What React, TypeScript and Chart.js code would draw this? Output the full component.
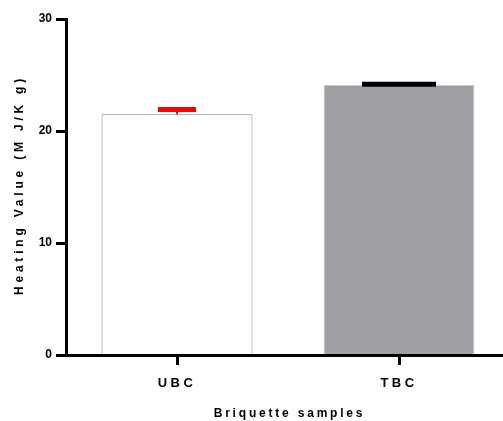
import React, { useEffect, useRef } from 'react';
import { Chart, registerables } from 'chart.js';

Chart.register(...registerables);

const categories = ['UBC', 'TBC'];
const heatingValues = [21.5, 24.13];
const errorValues = [0.42, 0.05];
const yTickValues = [0, 10, 20, 30];
const xTitle = 'Briquette samples';
const yTitle = 'Heating Value (M J/K g)';

const FONT = 'Liberation Sans, Arial, sans-serif';

const errorBarPlugin = {
  id: 'errorBars',
  beforeDraw(chart: any) {
    (chart.ctx as any).letterSpacing = '0px';
  },
  afterDatasetsDraw(chart: any, _args: any, opts: any) {
    const ctx = chart.ctx;
    const meta = chart.getDatasetMeta(0);
    const y = chart.scales.y;
    meta.data.forEach((bar: any, i: number) => {
      const top = y.getPixelForValue(heatingValues[i] + errorValues[i]);
      const base = bar.y;
      ctx.save();
      ctx.strokeStyle = opts.colors[i];
      ctx.lineWidth = opts.stemWidth;
      ctx.beginPath();
      ctx.moveTo(bar.x, base);
      ctx.lineTo(bar.x, top);
      ctx.stroke();
      ctx.lineWidth = opts.capThickness;
      ctx.beginPath();
      ctx.moveTo(bar.x - opts.capWidths[i] / 2, top);
      ctx.lineTo(bar.x + opts.capWidths[i] / 2, top);
      ctx.stroke();
      ctx.restore();
    });
    // x tick labels are drawn after this point (ticks.z = 2) with wide letter spacing
    (ctx as any).letterSpacing = opts.xTickSpacing;
  },
  afterDraw(chart: any, _args: any, opts: any) {
    const ctx = chart.ctx;
    const area = chart.chartArea;
    ctx.save();
    ctx.fillStyle = '#000';
    ctx.font = `bold 12px ${FONT}`;
    ctx.textAlign = 'center';
    ctx.textBaseline = 'middle';
    (ctx as any).letterSpacing = opts.xTitleSpacing;
    ctx.fillText(xTitle, (area.left + area.right) / 2 + 1.5, opts.xTitleY);
    ctx.translate(opts.yTitleX, (area.top + area.bottom) / 2);
    ctx.rotate(-Math.PI / 2);
    (ctx as any).letterSpacing = opts.yTitleSpacing;
    ctx.fillText(yTitle, 2, 0);
    ctx.restore();
    (ctx as any).letterSpacing = '0px';
  },
};

export default function App() {
  const canvasRef = useRef<HTMLCanvasElement | null>(null);

  useEffect(() => {
    document.body.style.margin = '0';
    const canvas = canvasRef.current;
    if (!canvas) return;
    const chart = new Chart(canvas, {
      type: 'bar',
      data: {
        labels: categories,
        datasets: [
          {
            data: heatingValues,
            backgroundColor: ['#ffffff', '#a09fa4'],
            borderColor: ['#858585', '#cfcfd2'],
            borderWidth: 1,
            categoryPercentage: 1,
            barPercentage: 0.68,
          },
        ],
      },
      options: {
        responsive: false,
        animation: false,
        devicePixelRatio: 1,
        layout: { padding: { left: 0, top: 19, right: 0, bottom: 0 } },
        plugins: {
          legend: { display: false },
          tooltip: { enabled: false },
          errorBars: {
            colors: ['#ff0000', '#000000'],
            capWidths: [38, 74],
            capThickness: 5,
            stemWidth: 2,
            xTickSpacing: '3.5px',
            xTitleSpacing: '2.8px',
            yTitleSpacing: '3.8px',
            xTitleY: 414,
            yTitleX: 20,
          },
        } as any,
        scales: {
          x: {
            offset: true,
            grid: {
              offset: false,
              drawOnChartArea: false,
              drawTicks: true,
              tickLength: 10,
              tickWidth: 3,
              tickColor: '#000',
            },
            border: { display: true, color: '#000', width: 3, z: 1 },
            ticks: {
              color: '#000',
              font: { family: FONT, size: 13, weight: 'bold' },
              padding: 11,
              z: 2,
              maxRotation: 0,
            },
            afterFit(scale: any) {
              scale.height = 66;
            },
          },
          y: {
            min: 0,
            max: 30,
            grid: {
              drawOnChartArea: false,
              drawTicks: true,
              tickLength: 10,
              tickWidth: 3,
              tickColor: '#000',
            },
            border: { display: true, color: '#000', width: 3, z: 1 },
            ticks: {
              color: '#000',
              font: { family: FONT, size: 12, weight: 'bold' },
              padding: 4,
            },
            afterBuildTicks(scale: any) {
              scale.ticks = yTickValues.map((v) => ({ value: v }));
            },
            afterFit(scale: any) {
              scale.width = 66;
            },
          },
        },
      } as any,
      plugins: [errorBarPlugin],
    });
    return () => chart.destroy();
  }, []);

  return (
    <div
      style={{
        position: 'absolute',
        left: 0,
        top: 0,
        width: 503,
        height: 421,
        overflow: 'hidden',
        background: '#fff',
      }}
    >
      <canvas ref={canvasRef} width={510} height={421} style={{ display: 'block' }} />
    </div>
  );
}
